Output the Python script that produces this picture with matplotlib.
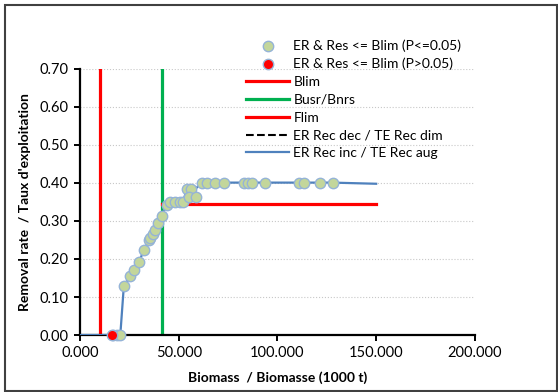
import numpy as np
import matplotlib.pyplot as plt
from matplotlib.patches import Rectangle

plt.rcParams['font.family'] = ['Lato', 'DejaVu Sans']

# biomass (1000 t) and removal rate, significant points (P<=0.05)
sig_x = [16.5, 18.6, 20.4, 22.2, 25.4, 27.2, 29.7, 32.4, 34.8, 35.7, 36.9, 38.0,
         39.6, 41.4, 43.9, 45.6, 48.1, 50.6, 52.2, 54.0, 56.0, 55.4, 58.6,
         61.6, 64.1, 68.4, 72.9, 83.2, 85.2, 86.9, 93.7, 111.0, 113.4, 121.5, 127.9]
sig_y = [0.0, 0.0, 0.0, 0.129, 0.155, 0.171, 0.191, 0.223, 0.249, 0.256, 0.267, 0.276,
         0.296, 0.314, 0.342, 0.350, 0.350, 0.350, 0.350, 0.383, 0.383, 0.364, 0.364,
         0.401, 0.401, 0.401, 0.401, 0.401, 0.401, 0.401, 0.401, 0.401, 0.401, 0.401, 0.401]

# non-significant point (P>0.05)
ns_x = [16.1]
ns_y = [0.0]

# ER Rec inc / TE Rec aug path
inc_x = [0.0, 16.1, 20.4, 22.2, 25.4, 27.2, 29.7, 32.4, 34.8, 36.9, 39.6, 41.4, 43.9,
         45.6, 52.2, 54.0, 56.0, 58.6, 61.6, 127.9, 150.0]
inc_y = [0.0, 0.0, 0.0, 0.129, 0.155, 0.171, 0.191, 0.223, 0.249, 0.267, 0.296, 0.314, 0.342,
         0.350, 0.350, 0.383, 0.383, 0.385, 0.401, 0.401, 0.398]

blim = 10.0
busr = 41.3
flim = 0.346
flim_end = 150.0
ymax = 0.70

fig = plt.figure(figsize=(5.58, 3.92), dpi=100)
ax = fig.add_axes([0.1434, 0.1454, 0.7076, 0.6786])

ax.set_xlim(0, 200)
ax.set_ylim(0, 0.70)
ax.set_xticks(np.arange(0, 201, 50))
ax.set_xticklabels([f"{v:.3f}" for v in np.arange(0, 201, 50)])
ax.set_yticks(np.arange(0, 0.71, 0.1))
ax.set_yticklabels([f"{v:.2f}" for v in np.arange(0, 0.71, 0.1)])
ax.grid(axis='y', color='#c8c8c8', linestyle=':', linewidth=0.8)
ax.set_axisbelow(True)

for s in ['top', 'right']:
    ax.spines[s].set_visible(False)
for s in ['left', 'bottom']:
    ax.spines[s].set_linewidth(1.6)
ax.tick_params(axis='both', width=1.4, length=4, labelsize=10.5, pad=4)

h_sig = ax.scatter(sig_x, sig_y, s=56, facecolor='#c3d69b', edgecolor='#95b3d7',
                   linewidth=1.0, zorder=5, clip_on=False, label='ER & Res <= Blim (P<=0.05)')
h_ns = ax.scatter(ns_x, ns_y, s=56, facecolor='#ff0000', edgecolor='#95b3d7',
                  linewidth=1.0, zorder=6, clip_on=False, label='ER & Res <= Blim (P>0.05)')
h_blim, = ax.plot([blim, blim], [0, ymax], color='#ff0000', linewidth=2.3, label='Blim')
h_busr, = ax.plot([busr, busr], [0, ymax], color='#00b050', linewidth=2.3, label='Busr/Bnrs')
h_flim, = ax.plot([busr, flim_end], [flim, flim], color='#ff0000', linewidth=2.3, label='Flim')
h_dec, = ax.plot([], [], color='black', linestyle='--', linewidth=1.5, label='ER Rec dec / TE Rec dim')
h_inc, = ax.plot(inc_x, inc_y, color='#4f81bd', linewidth=1.6, zorder=4, label='ER Rec inc / TE Rec aug')

ax.set_xlabel('Biomass  / Biomasse (1000 t)', fontsize=10, fontweight='bold', labelpad=8)
ax.set_ylabel('Removal rate  / Taux d\'exploitation', fontsize=10, fontweight='bold', labelpad=6)

fig.legend(handles=[h_sig, h_ns, h_blim, h_busr, h_flim, h_dec, h_inc],
           loc='upper left', bbox_to_anchor=(0.441, 0.90), frameon=False,
           fontsize=10, handlelength=3.1, handletextpad=0.3, labelspacing=0.42,
           borderaxespad=0, borderpad=0)

fig.patches.append(Rectangle((5 / 558, 1 / 392), 552 / 558, 386 / 392, transform=fig.transFigure,
                             fill=False, edgecolor='#404040', linewidth=1.5))

fig.savefig('out.png', dpi=100)
